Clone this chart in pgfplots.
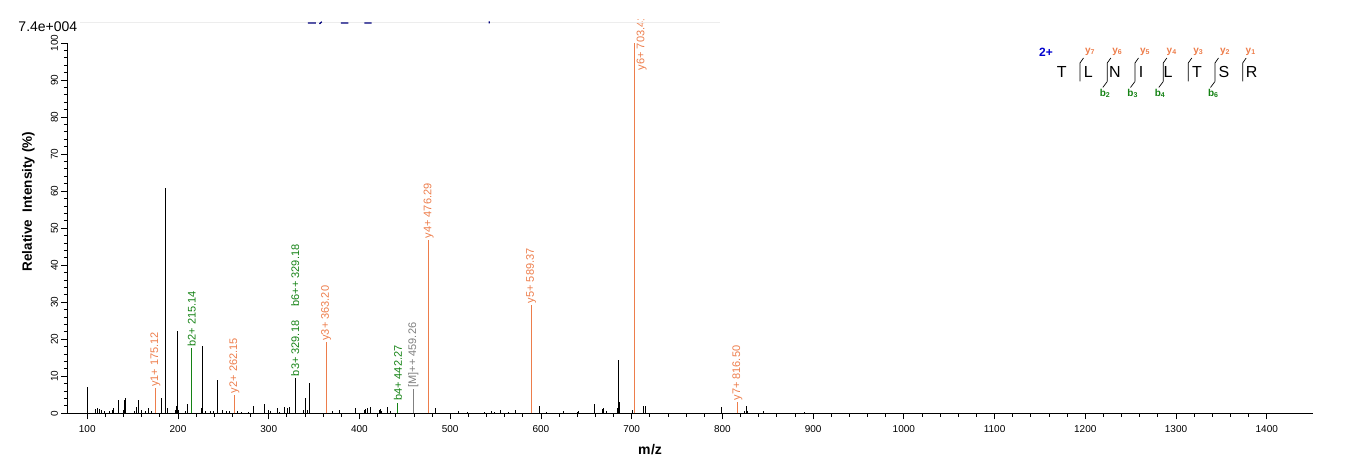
\documentclass[border=0pt]{standalone}
\usepackage{fontspec}
\setmainfont{Liberation Sans}
\usepackage{pgfplots}
\pgfplotsset{compat=1.18}

\definecolor{ionY}{RGB}{237,125,75}
\definecolor{ionB}{RGB}{20,130,20}
\definecolor{ionM}{RGB}{128,128,128}
\definecolor{chg}{RGB}{0,0,205}
\newcommand{\fs}[1]{\fontsize{#1bp}{#1bp}\selectfont}
\tikzset{lab/.style={rotate=90, anchor=west, font=\fs{11}, inner sep=1.5bp}}

\begin{document}
\begin{tikzpicture}
% page = 1362 x 473 px, axis origin at px (67.5, 413.3)
\path[use as bounding box] (-67.5bp,-59.7bp) rectangle (1294.5bp,413.3bp);

\begin{axis}[
    x=0.9073bp, y=3.703bp,
    xmin=78.2, xmax=1451, ymin=0, ymax=100,
    axis lines=left,
    axis line style={-, line width=0.8bp},
    clip=false,
    tick align=outside,
    major tick length=6bp, minor tick length=3.5bp,
    every tick/.style={black, line width=0.8bp},
    xtick={100,200,...,1400}, minor x tick num=4,
    ytick={0,10,...,100}, minor y tick num=4,
    /pgf/number format/assume math mode=true,
    /pgf/number format/1000 sep={},
    ticklabel style={font=\fs{10}},
    xticklabel style={yshift=-2.5bp},
    yticklabel style={rotate=90, anchor=south},
    xlabel={m\kern0.5bp/z},
    ylabel={Relative\ \ Intensity (\%)},
    xlabel style={font=\bfseries\fs{14}, at={(axis description cs:0.4677,-0.0991)}, anchor=center},
    ylabel style={font=\bfseries\fs{13.5}, at={(axis description cs:-0.0315,0.5714)}, anchor=center},
]
% unassigned peaks
\addplot[ycomb, black, line width=1bp] coordinates {
    (100.1,7.2) (109.3,1.2) (111.5,1.4) (113.3,1.2) (115.2,0.9) (118.8,0.5)
    (124.3,0.5) (127.6,0.9) (129.1,1.4) (134.2,3.6) (139.7,0.9) (140.8,3.6)
    (141.9,4.2) (151.5,0.5) (154.4,1.8) (156.2,3.6) (159.9,0.9) (164.7,0.5)
    (167.2,1.4) (170.9,0.5) (181.6,4.2) (186.4,60.8) (188.2,1.4) (196.7,0.9)
    (198.2,2.0) (199.3,22.3) (200.4,0.9) (208.8,0.5) (210.3,2.5) (225.9,1.4)
    (227.1,18.2) (230.2,0.5) (235.3,0.5) (239.0,0.5) (243.3,9.0) (248.9,0.9)
    (253.7,0.5) (256.6,0.5) (265.8,0.5) (270.2,0.4) (277.9,0.4) (283.1,2.0)
    (295.2,2.5) (299.6,0.9) (301.4,0.7) (309.5,1.4) (312.4,0.4) (317.9,1.6)
    (320.9,1.4) (322.7,1.8) (329.18,9.6) (338.1,0.9) (340.0,4.2) (342.5,0.9)
    (344.8,8.3) (364.2,0.9) (370.1,0.5) (378.2,0.9) (395.1,1.4) (405.0,0.9)
    (406.9,1.1) (408.7,1.4) (412.4,1.8) (422.3,0.9) (423.4,1.1) (424.5,0.7)
    (430.8,1.8) (434.4,0.5) (484.0,1.4) (508.9,0.5) (518.8,0.4) (538.3,0.4)
    (545.7,0.5) (548.6,0.4) (554.9,0.9) (564.0,0.4) (572.2,0.9) (598.2,2.0)
    (606.3,0.4) (624.6,0.5) (640.5,0.4) (641.9,0.5) (658.5,2.5) (667.6,1.2)
    (668.7,1.4) (672.5,0.5) (684.1,1.4) (685.3,14.4) (686.4,3.0) (701.1,0.9)
    (713.6,2.0) (715.4,2.0) (799.2,1.8) (824.9,0.7) (826.3,2.0) (827.4,0.7)
    (845.1,0.5) (890.3,0.4)
};
% y ions
\addplot[ycomb, ionY, line width=1bp] coordinates {
    (175.12,6.7) (262.15,5.0) (363.20,19.2) (476.29,46.8)
    (589.37,29.3) (703.41,100) (816.50,3.0)
};
% b ions
\addplot[ycomb, ionB, line width=1bp] coordinates {
    (215.14,17.6) (442.27,2.9)
};
% precursor
\addplot[ycomb, ionM, line width=1bp] coordinates {
    (459.26,6.5)
};

\node[lab, text=ionY] at (axis cs:175.12,6.7) {y1+ 175.12};
\node[lab, text=ionY] at (axis cs:262.15,5.0) {y2+ 262.15};
\node[lab, text=ionY] at (axis cs:363.20,19.2) {y3+ 363.20};
\node[lab, text=ionY] at (axis cs:476.29,46.8) {y4+ 476.29};
\node[lab, text=ionY] at (axis cs:589.37,29.3) {y5+ 589.37};
\node[lab, text=ionY] at (axis cs:816.50,3.0) {y7+ 816.50};
\node[lab, text=ionB] at (axis cs:215.14,17.6) {b2+ 215.14};
\node[lab, text=ionB] at (axis cs:329.18,9.6) {b3+ 329.18};
\node[lab, text=ionB] at (axis cs:329.18,28.4) {b6++ 329.18};
\node[lab, text=ionB] at (axis cs:442.27,2.9) {b4+ 442.27};
\node[lab, text=ionM] at (axis cs:459.26,6.5) {[M]++ 459.26};
\coordinate (y6lab) at (axis cs:711,92.2);
\end{axis}

% top label of the tallest peak, cut at the top edge of the plot window
\begin{scope}
  \clip (-67.5bp,-59.7bp) rectangle (1294.5bp,393.3bp);
  \node[lab, text=ionY] at (y6lab) {y6+ 703.41};
\end{scope}

% pixel-based overlay
\begin{scope}[shift={(-67.5bp,413.3bp)}, x=1bp, y=-1bp]
  \node[font=\fs{14}, anchor=west, inner sep=0pt] at (18.3,26.5) {7.4e+004};
  \draw[black!7, line width=0.6bp] (80,22.5) -- (720,22.5);
  \draw[chg!60!black, line width=1.3bp] (308,23) -- (316,23) (319.5,23.8) -- (321.8,21.8)
      (341,23) -- (348.3,23) (364.3,23) -- (371.7,23) (489.3,21.5) -- (489.3,23.5);

  % fragment map
  \node[font=\bfseries\fs{12}, text=chg] at (1046,52.7) {2+};
  \foreach \px/\aa in {1061.7/T,1088.3/L,1115/N,1141/I,1168/L,1197/T,1224/S,1251.7/R}
    \node[font=\fs{16}] at (\px,71.7) {\aa};
  \foreach \px in {1080,1107.3,1135,1163.3,1188.3,1215,1242.7}
    \draw[line width=0.7bp] (\px,81.5) -- (\px,63) -- (\px+3.5,58);
  \foreach \px in {1107.3,1135,1163.3,1215}
    \draw[line width=0.7bp] (\px,81.5) -- (\px-4.5,87.5);
  \foreach \px/\n in {1090/7,1117.3/6,1145/5,1171.7/4,1198.3/3,1225/2,1250.7/1}
    \node[font=\bfseries\fs{10}, text=ionY] at (\px,51.7) {y\textsubscript{\n}};
  \foreach \px/\n in {1105/2,1132.7/3,1160/4,1213.3/6}
    \node[font=\bfseries\fs{10}, text=ionB] at (\px,93.3) {b\textsubscript{\n}};
\end{scope}
\end{tikzpicture}
\end{document}
